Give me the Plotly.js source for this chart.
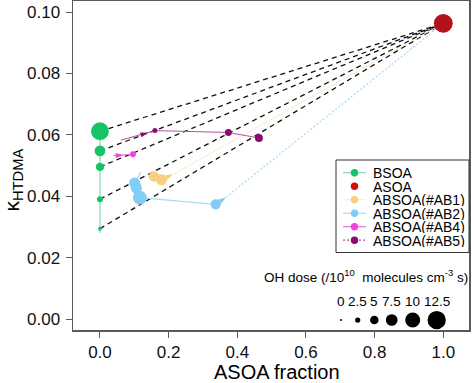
<!DOCTYPE html>
<html><head><meta charset="utf-8">
<script src="https://cdn.plot.ly/plotly-3.0.1.min.js"></script>
<style>html,body{margin:0;padding:0;background:#fff}</style>
</head><body><div id="chart" style="width:474px;height:383px"></div>
<script>
// ---------- data ----------
// null dose = trajectory direction arrow
const bsoaFrac  = [0, 0, 0, 0, 0, 0];
const bsoaKappa = [0.0281, 0.0295, 0.0391, 0.0496, 0.0548, 0.0612];
const bsoaDose  = [0.9, 1.3, 3.1, 4.9, 6.7, 12.1];

const asoaFrac  = [1.0];
const asoaKappa = [0.0963];
const asoaDose  = [13.0];

const ab1Frac  = [0.149, 0.157, 0.179, 0.213];
const ab1Kappa = [0.0451, 0.0465, 0.0454, 0.0472];
const ab1Dose  = [7.7, 6.5, 6.9, null];

const ab2Frac  = [0.119, 0.101, 0.106, 0.116, 0.337, 0.367];
const ab2Kappa = [0.0479, 0.0443, 0.0427, 0.0396, 0.0374, 0.0397];
const ab2Dose  = [10.0, 7.0, 7.0, 9.2, 6.2, null];

const ab4Frac  = [0.039, 0.068, 0.096];
const ab4Kappa = [0.0533, 0.0534, 0.0537];
const ab4Dose  = [2.2, null, 3.0];

const ab5Frac  = [0.061, 0.140, 0.160, 0.374, 0.463];
const ab5Kappa = [0.0583, 0.0607, 0.0614, 0.0608, 0.0590];
const ab5Dose  = [1.5, null, 2.3, 3.8, 4.6];

const seriesNames = ['BSOA', 'ASOA', 'ABSOA(#AB1)', 'ABSOA(#AB2)', 'ABSOA(#AB4)', 'ABSOA(#AB5)'];
const doseLegend  = [0, 2.5, 5, 7.5, 10, 12.5];
const doseLegendLabels = ['0', '2.5', '5', '7.5', '10', '12.5'];
const xTicks = [0, 0.2, 0.4, 0.6, 0.8, 1.0];
const yTicks = [0, 0.02, 0.04, 0.06, 0.08, 0.10];

// ---------- styling ----------
const FONT = 'Liberation Sans, Arial, Helvetica, sans-serif';
const col = {
  bsoa: '#14c466', bsoaL: '#7fdca8',
  asoa: '#b3121a', asoaLeg: '#d80c0c',
  ab1: '#fbcd80', ab1L: '#fdebc8',
  ab2: '#80cdf6', ab2L: '#a6dbf6',
  ab4: '#f243df', ab4L: '#ee6fdd',
  ab5: '#8d0a70', ab5L: '#b4509c'
};
const sz = d => d == null ? 8 : 2 + 1.3 * d;
const sym = d => d == null ? 'arrow' : 'circle';

function series(x, y, d, mc, lc, lw, dash) {
  return {
    x: x, y: y, type: 'scatter', mode: 'lines+markers', showlegend: false, hoverinfo: 'skip',
    line: {color: lc, width: lw, dash: dash || 'solid'},
    marker: {color: mc, opacity: 1, size: d.map(sz), symbol: d.map(sym), angleref: 'previous', line: {width: 0}}
  };
}

const traces = [];
// mixing lines BSOA -> ASOA
for (let i = 1; i < bsoaKappa.length; i++) {
  traces.push({x: [bsoaFrac[i], asoaFrac[0]], y: [bsoaKappa[i], asoaKappa[0]], type: 'scatter', mode: 'lines',
    showlegend: false, hoverinfo: 'skip', line: {color: '#111', width: 1.3, dash: '5px,4px'}});
}
// AB1 / AB2 mixing lines to ASOA
traces.push({x: [ab1Frac[ab1Frac.length-1], asoaFrac[0]], y: [ab1Kappa[ab1Kappa.length-1], asoaKappa[0]],
  type: 'scatter', mode: 'lines', showlegend: false, hoverinfo: 'skip', line: {color: col.ab1L, width: 1}});
traces.push({x: [ab2Frac[ab2Frac.length-1], asoaFrac[0]], y: [ab2Kappa[ab2Kappa.length-1], asoaKappa[0]],
  type: 'scatter', mode: 'lines', showlegend: false, hoverinfo: 'skip', line: {color: col.ab2L, width: 1.2, dash: '2px,2px'}});

traces.push(series(bsoaFrac, bsoaKappa, bsoaDose, col.bsoa, col.bsoaL, 1.2));
traces.push(series(ab5Frac, ab5Kappa, ab5Dose, col.ab5, col.ab5L, 1));
traces.push(series(ab4Frac, ab4Kappa, ab4Dose, col.ab4, col.ab4L, 1));
traces.push(series(ab1Frac, ab1Kappa, ab1Dose, col.ab1, col.ab1L, 1));
traces.push(series(ab2Frac, ab2Kappa, ab2Dose, col.ab2, col.ab2L, 1.2));
traces.push({x: asoaFrac, y: asoaKappa, type: 'scatter', mode: 'markers', showlegend: false, hoverinfo: 'skip',
  marker: {color: col.asoa, opacity: 1, size: asoaDose.map(sz), line: {width: 0}}});

// ---------- layout helpers (pixel -> paper) ----------
const L = 73, R = 469, T = 1, B = 330;
const px = p => (p - L) / (R - L);
const py = p => (B - p) / (B - T);

const shapes = [];
const annotations = [];

// custom legend
shapes.push({type: 'rect', xref: 'paper', yref: 'paper', x0: px(336), x1: px(469), y0: py(252.5), y1: py(160),
  line: {color: '#333', width: 1}, fillcolor: '#fff', layer: 'above'});
const legMark = [col.bsoa, col.asoaLeg, col.ab1, col.ab2, col.ab4, col.ab5];
const legLine = [col.bsoaL, null, col.ab1L, col.ab2L, col.ab4L, col.ab5L];
seriesNames.forEach((n, i) => {
  const yy = 172.7 + i * 13.5;
  if (legLine[i]) shapes.push({type: 'line', xref: 'paper', yref: 'paper', x0: px(343), x1: px(366), y0: py(yy), y1: py(yy),
    line: {color: legLine[i], width: 1.2, dash: i === 5 ? '2px,2px' : 'solid'}, layer: 'above'});
  shapes.push({type: 'circle', xref: 'paper', yref: 'paper', xsizemode: 'pixel', ysizemode: 'pixel',
    xanchor: px(354.5), yanchor: py(yy), x0: -3.7, x1: 3.7, y0: -3.7, y1: 3.7,
    fillcolor: legMark[i], line: {width: 0}, layer: 'above'});
  annotations.push({xref: 'paper', yref: 'paper', x: px(371), y: py(yy), xanchor: 'left', yanchor: 'middle',
    height: 13, text: n, showarrow: false, font: {family: FONT, size: 14, color: '#000'}});
});

// dose size legend
annotations.push({xref: 'paper', yref: 'paper', x: px(470), y: py(276), xanchor: 'right', yanchor: 'middle',
  text: 'OH dose (/10<sup>10</sup>  molecules cm<sup>-3</sup> s)', showarrow: false,
  font: {family: FONT, size: 13.5, color: '#000'}});
const doseX = [341, 357.7, 374.3, 391.7, 412.7, 436.7];
doseLegend.forEach((d, i) => {
  const r = sz(d) / 2;
  shapes.push({type: 'circle', xref: 'paper', yref: 'paper', xsizemode: 'pixel', ysizemode: 'pixel',
    xanchor: px(doseX[i]), yanchor: py(320), x0: -r, x1: r, y0: -r, y1: r,
    fillcolor: '#000', line: {width: 0}, layer: 'above'});
  annotations.push({xref: 'paper', yref: 'paper', x: px(doseX[i]), y: py(301), xanchor: 'center', yanchor: 'middle',
    text: doseLegendLabels[i], showarrow: false, font: {family: FONT, size: 13.5, color: '#000'}});
});

// axis titles
annotations.push({xref: 'paper', yref: 'paper', x: px(277), y: py(372), xanchor: 'center', yanchor: 'middle',
  text: 'ASOA fraction', showarrow: false, font: {family: FONT, size: 20, color: '#000'}});
annotations.push({xref: 'paper', yref: 'paper', x: px(12.5), y: py(180), xanchor: 'center', yanchor: 'middle',
  text: 'κ<sub>HTDMA</sub>', textangle: -90, showarrow: false, font: {family: FONT, size: 21, color: '#000'}});

const axisCommon = {
  showgrid: false, zeroline: false, showline: true, mirror: true, linecolor: '#5a5a5a', linewidth: 1.5,
  ticks: 'outside', ticklen: 6, tickwidth: 1, tickcolor: '#5a5a5a',
  tickfont: {family: FONT, size: 17, color: '#111'}
};

const layout = {
  width: 474, height: 383,
  margin: {l: L, r: 474 - R, t: T, b: 383 - B, pad: 0},
  paper_bgcolor: '#fff', plot_bgcolor: '#fff',
  showlegend: false,
  xaxis: Object.assign({}, axisCommon, {range: [-0.0786, 1.0749], tickvals: xTicks, tickformat: '.1f'}),
  yaxis: Object.assign({}, axisCommon, {range: [-0.00348, 0.10358], tickvals: yTicks, tickformat: '.2f', ticklabelstandoff: 2}),
  shapes: shapes,
  annotations: annotations
};

Plotly.newPlot('chart', traces, layout, {displayModeBar: false, staticPlot: true});
</script>
</body></html>
